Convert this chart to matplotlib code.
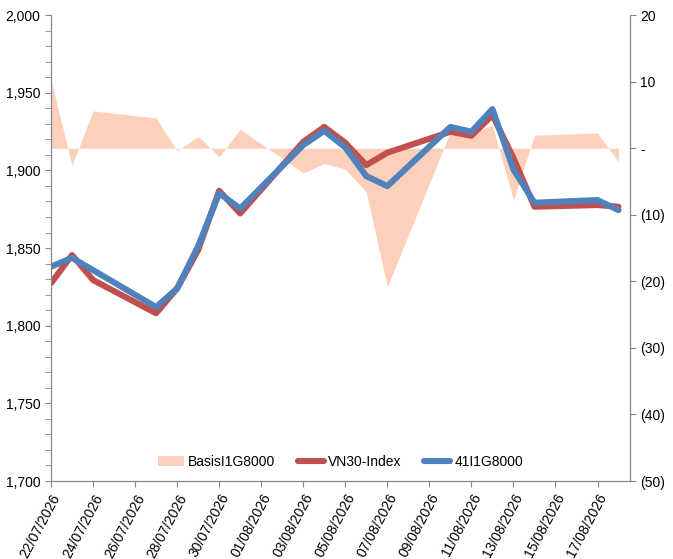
import pandas as pd
import matplotlib
matplotlib.use('Agg')
import matplotlib.pyplot as plt
import matplotlib.dates as mdates
from matplotlib.ticker import MultipleLocator, FuncFormatter

plt.rcParams['font.family'] = ['Liberation Sans', 'DejaVu Sans']

# Data
DATES = ['2026-07-22', '2026-07-23', '2026-07-24', '2026-07-27', '2026-07-28',
         '2026-07-29', '2026-07-30', '2026-07-31', '2026-08-03', '2026-08-04',
         '2026-08-05', '2026-08-06', '2026-08-07', '2026-08-10', '2026-08-11',
         '2026-08-12', '2026-08-13', '2026-08-14', '2026-08-17', '2026-08-18']
VN30 = [1827.4, 1845.5, 1829.4, 1808.0, 1824.0, 1848.7, 1886.9, 1872.3, 1918.4, 1928.0,
        1917.8, 1903.4, 1911.4, 1924.9, 1922.3, 1935.6, 1908.0, 1876.6, 1877.7, 1876.6]
FUTURES = [1838.0, 1843.7, 1835.8, 1812.0, 1824.0, 1851.3, 1885.2, 1875.5, 1916.3, 1925.5,
           1914.8, 1896.3, 1889.9, 1928.0, 1924.9, 1939.5, 1900.6, 1879.2, 1880.9, 1874.4]
BASIS = [10.2, -2.55, 5.6, 4.55, -0.4, 1.8, -1.3, 2.85, -3.7, -2.3,
         -3.15, -6.6, -20.8, 2.45, 2.2, 3.45, -7.8, 1.95, 2.3, -2.05]

RED = '#C0504D'
BLUE = '#4F81BD'
BASIS_COLOR = '#FCD0BA'
AXIS_GRAY = '#868686'


def basis_fmt(v, pos):
    v = int(round(v))
    if v == 0:
        return '-'
    if v < 0:
        return f'({-v})'
    return str(v)


def plot_chart():
    dates = pd.to_datetime(DATES)
    fig = plt.figure(figsize=(6.73, 5.59), dpi=100)
    ax = fig.add_axes([0.0758, 0.1395, 0.8602, 0.8335])
    ax2 = ax.twinx()

    # basis area on the right axis, behind the index lines
    area = ax2.fill_between(dates, BASIS, 0, color=BASIS_COLOR, linewidth=0,
                            label='BasisI1G8000')
    ax2.set_ylim(-50, 20)
    ax2.yaxis.set_major_locator(MultipleLocator(10))
    ax2.yaxis.set_major_formatter(FuncFormatter(basis_fmt))

    l1, = ax.plot(dates, VN30, color=RED, linewidth=4.4, solid_joinstyle='round',
                  solid_capstyle='round', label='VN30-Index')
    l2, = ax.plot(dates, FUTURES, color=BLUE, linewidth=4.4, solid_joinstyle='round',
                  solid_capstyle='round', label='41I1G8000')
    ax.set_zorder(ax2.get_zorder() + 1)
    ax.patch.set_visible(False)

    ax.set_ylim(1700, 2000)
    ax.yaxis.set_major_locator(MultipleLocator(50))
    ax.yaxis.set_minor_locator(MultipleLocator(10))
    ax.yaxis.set_major_formatter(FuncFormatter(lambda v, p: f'{v:,.0f}'))

    ax.set_xlim(dates[0], dates[-1] + pd.Timedelta(hours=13))
    ax.set_xticks(pd.date_range('2026-07-22', '2026-08-17', freq='2D'))
    ax.xaxis.set_major_formatter(mdates.DateFormatter('%d/%m/%Y'))

    for a in (ax, ax2):
        a.spines['top'].set_visible(False)
        for s in ('left', 'right', 'bottom'):
            a.spines[s].set_color(AXIS_GRAY)
        a.tick_params(which='both', color=AXIS_GRAY, labelsize=10, direction='out')
        a.tick_params(which='major', length=4)
        a.tick_params(which='minor', length=4)

    for lab in ax.get_xticklabels():
        lab.set_rotation(62)
        lab.set_ha('right')
        lab.set_va('top')
        lab.set_rotation_mode('anchor')

    ax.legend([area, l1, l2], ['BasisI1G8000', 'VN30-Index', '41I1G8000'],
              loc='lower center', bbox_to_anchor=(0.5, 0.0), ncol=3, frameon=False,
              fontsize=10, handlelength=1.9, handletextpad=0.3, columnspacing=1.6)

    fig.savefig('out.png', dpi=100)
    plt.close(fig)


def main():
    plot_chart()


if __name__ == "__main__":
    main()
